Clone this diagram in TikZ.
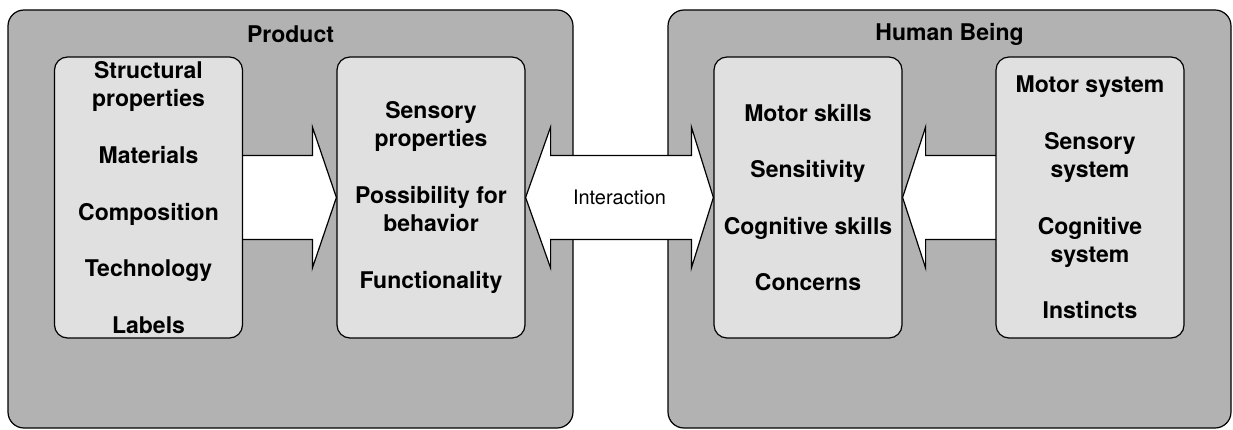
\documentclass[tikz,border=0pt]{standalone}
\usepackage{fontspec}
\setmainfont{TeX Gyre Heros}
\usetikzlibrary{calc}
\definecolor{panelgray}{gray}{0.70}
\definecolor{itemgray}{gray}{0.88}
\pgfdeclarelayer{back}
\pgfdeclarelayer{mid}
\pgfsetlayers{back,mid,main}
\begin{document}
\begin{tikzpicture}[x=1pt,y=-1pt,
  panel/.style={draw=black, line width=1.2pt, fill=panelgray, rounded corners=16pt,
    minimum height=418pt, inner sep=0pt},
  paneltitle/.style={font=\bfseries\fontsize{23}{28}\selectfont, inner sep=0pt},
  itembox/.style={draw=black, line width=1.2pt, fill=itemgray, rounded corners=13pt,
    minimum width=188pt, minimum height=281pt, inner sep=0pt, align=center,
    font=\bfseries\fontsize{23}{28.3}\selectfont},
  bigarrow/.style={draw=black, line width=1.2pt, fill=white, line join=miter},
  arrowtext/.style={font=\fontsize{20}{24}\selectfont, inner sep=0pt}]
\useasboundingbox (0,0) rectangle (1233,430);

% the two grey panels
\begin{pgfonlayer}{back}
  \node[panel, minimum width=565pt] (product) at (290.5,219) {};
  \node[panel, minimum width=563pt] (human) at (949.5,219) {};
\end{pgfonlayer}
\node[paneltitle] (producttitle) at (290.5,34) {Product};
\node[paneltitle] (humantitle) at (949.5,34) {Human Being};

% the four property boxes
\node[itembox] (b1) at (148.5,197.5)
  {Structural\\properties\\[28.3pt]Materials\\[28.3pt]Composition\\[28.3pt]Technology\\[28.3pt]Labels};
\node[itembox] (b2) at (431,197.5)
  {Sensory\\properties\\[28.3pt]Possibility for\\behavior\\[28.3pt]Functionality};
\node[itembox] (b3) at (808,197.5)
  {Motor skills\\[28.3pt]Sensitivity\\[28.3pt]Cognitive skills\\[28.3pt]Concerns};
\node[itembox] (b4) at (1090,197.5)
  {Motor system\\[28.3pt]Sensory\\system\\[28.3pt]Cognitive\\system\\[28.3pt]Instincts};

% block arrows between the boxes
\begin{pgfonlayer}{mid}
  \draw[bigarrow] ($(b1.east)+(-2,-42)$) -- ($(b2.west)+(-24,-42)$)
    -- ($(b2.west)+(-24,-70.5)$) -- (b2.west) -- ($(b2.west)+(-24,70.5)$)
    -- ($(b2.west)+(-24,42)$) -- ($(b1.east)+(-2,42)$) -- cycle;
  \draw[bigarrow] (b2.east) -- ($(b2.east)+(25,-70.5)$) -- ($(b2.east)+(25,-42)$)
    -- ($(b3.west)+(-22,-42)$) -- ($(b3.west)+(-22,-70.5)$) -- (b3.west)
    -- ($(b3.west)+(-22,70.5)$) -- ($(b3.west)+(-22,42)$)
    -- ($(b2.east)+(25,42)$) -- ($(b2.east)+(25,70.5)$) -- cycle;
  \draw[bigarrow] ($(b4.west)+(2,-42)$) -- ($(b3.east)+(23,-42)$)
    -- ($(b3.east)+(23,-70.5)$) -- (b3.east) -- ($(b3.east)+(23,70.5)$)
    -- ($(b3.east)+(23,42)$) -- ($(b4.west)+(2,42)$) -- cycle;
\end{pgfonlayer}
\node[arrowtext] (interaction) at ($(b2.east)!0.5!(b3.west)$) {Interaction};
\end{tikzpicture}
\end{document}
